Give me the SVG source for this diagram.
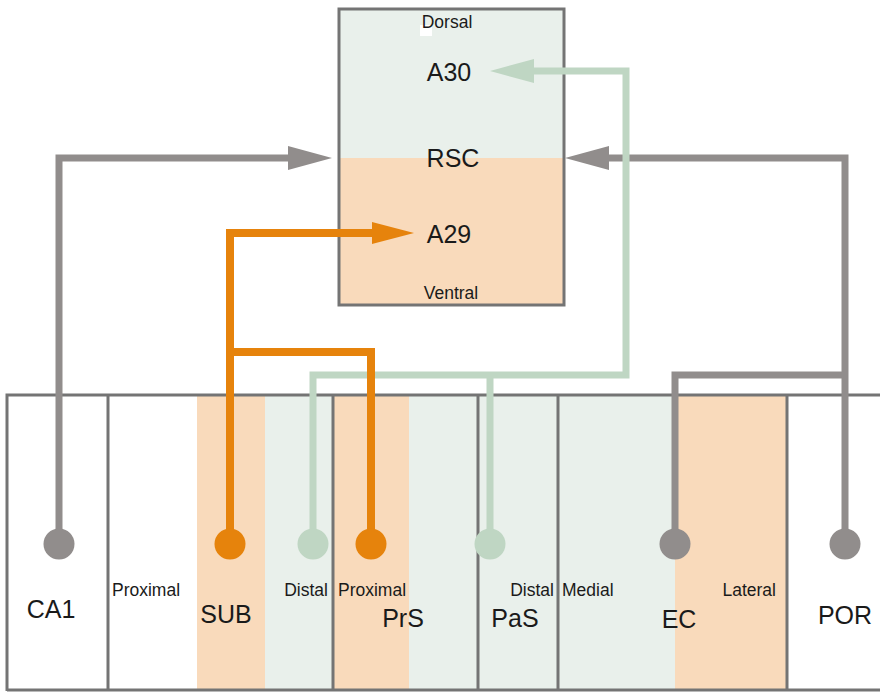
<svg xmlns="http://www.w3.org/2000/svg" width="880" height="692" viewBox="0 0 880 692">
<style>
text{font-family:"Liberation Sans",Arial,sans-serif;fill:#1a1a1a}
.big{font-size:25px}
.sm{font-size:17.5px}
.border{fill:none;stroke:#747474;stroke-width:3}
.peach{fill:#f9dabb}
.mint{fill:#e9f0eb}
.gray{fill:none;stroke:#918d8c;stroke-width:7;stroke-linejoin:miter}
.orange{fill:none;stroke:#e6830c;stroke-width:8;stroke-linejoin:miter}
.green{fill:none;stroke:#bfd6c3;stroke-width:7;stroke-linejoin:miter}
</style>
<defs>
<marker id="ag" markerUnits="userSpaceOnUse" markerWidth="46" markerHeight="26" refX="2" refY="12" orient="auto"><path d="M0,0 L44,12 L0,24 z" fill="#918d8c"/></marker>
<marker id="ao" markerUnits="userSpaceOnUse" markerWidth="44" markerHeight="24" refX="2" refY="11" orient="auto"><path d="M0,0 L42,11 L0,22 z" fill="#e6830c"/></marker>
<marker id="an" markerUnits="userSpaceOnUse" markerWidth="46" markerHeight="26" refX="2" refY="12" orient="auto"><path d="M0,0 L44,12 L0,24 z" fill="#bfd6c3"/></marker>
</defs>
<rect width="880" height="692" fill="#ffffff"/>

<g id="RSC">
<rect x="339" y="9" width="225" height="149" class="mint"/>
<rect x="339" y="158" width="225" height="147" class="peach"/>
<rect x="339" y="9" width="225" height="296" class="border"/>
<rect x="420" y="25" width="12" height="11" fill="#ffffff"/>
<text x="447" y="28" class="sm" text-anchor="middle">Dorsal</text>
<text x="449" y="81" class="big" text-anchor="middle">A30</text>
<text x="453" y="167" class="big" text-anchor="middle">RSC</text>
<text x="449" y="243" class="big" text-anchor="middle">A29</text>
<text x="451" y="299" class="sm" text-anchor="middle">Ventral</text>
</g>

<g id="CA1">
<rect x="7" y="395" width="101" height="296" fill="#ffffff"/>
<text x="51" y="618" class="big" text-anchor="middle">CA1</text>
</g>
<g id="SUB">
<rect x="197" y="395" width="68" height="296" class="peach"/>
<rect x="265" y="395" width="68" height="296" class="mint"/>
<text x="112" y="596" class="sm">Proximal</text>
<text x="328" y="596" class="sm" text-anchor="end">Distal</text>
<text x="226" y="623" class="big" text-anchor="middle">SUB</text>
</g>
<g id="PrS">
<rect x="333" y="395" width="76" height="296" class="peach"/>
<rect x="409" y="395" width="69" height="296" class="mint"/>
<text x="338" y="596" class="sm">Proximal</text>
<text x="403" y="627" class="big" text-anchor="middle">PrS</text>
</g>
<g id="PaS">
<rect x="478" y="395" width="80" height="296" class="mint"/>
<text x="554" y="596" class="sm" text-anchor="end">Distal</text>
<text x="515" y="627" class="big" text-anchor="middle">PaS</text>
</g>
<g id="EC">
<rect x="558" y="395" width="117" height="296" class="mint"/>
<rect x="675" y="395" width="112" height="296" class="peach"/>
<text x="562" y="596" class="sm">Medial</text>
<text x="776" y="596" class="sm" text-anchor="end">Lateral</text>
<text x="679" y="628" class="big" text-anchor="middle">EC</text>
</g>
<g id="POR">
<text x="845" y="624" class="big" text-anchor="middle">POR</text>
</g>
<g id="panel-lines">
<path d="M7,691 V395 H882" class="border"/>
<path d="M7,690 H882" class="border"/>
<path d="M108,395 V691 M333,395 V691 M478,395 V691 M558,395 V691 M787,395 V691" class="border"/>
</g>

<g id="connectors">
<path d="M59,545 V158 H290" class="gray" marker-end="url(#ag)"/>
<path d="M845,545 V158 H607" class="gray" marker-end="url(#ag)"/>
<path d="M675,545 V375 H845" class="gray"/>
<path d="M313,545 V375 H626 V71 H532" class="green" marker-end="url(#an)"/>
<path d="M490,545 V375" class="green"/>
<path d="M230,545 V233 H374" class="orange" marker-end="url(#ao)"/>
<path d="M230,352 H371 V545" class="orange"/>
<circle cx="59" cy="544" r="15.5" fill="#918d8c"/>
<circle cx="845" cy="544" r="15.5" fill="#918d8c"/>
<circle cx="675" cy="544" r="15.5" fill="#918d8c"/>
<circle cx="230" cy="544" r="15.5" fill="#e6830c"/>
<circle cx="371" cy="544" r="15.5" fill="#e6830c"/>
<circle cx="313" cy="544" r="15.5" fill="#bfd6c3"/>
<circle cx="490" cy="544" r="15.5" fill="#bfd6c3"/>
</g>
</svg>
